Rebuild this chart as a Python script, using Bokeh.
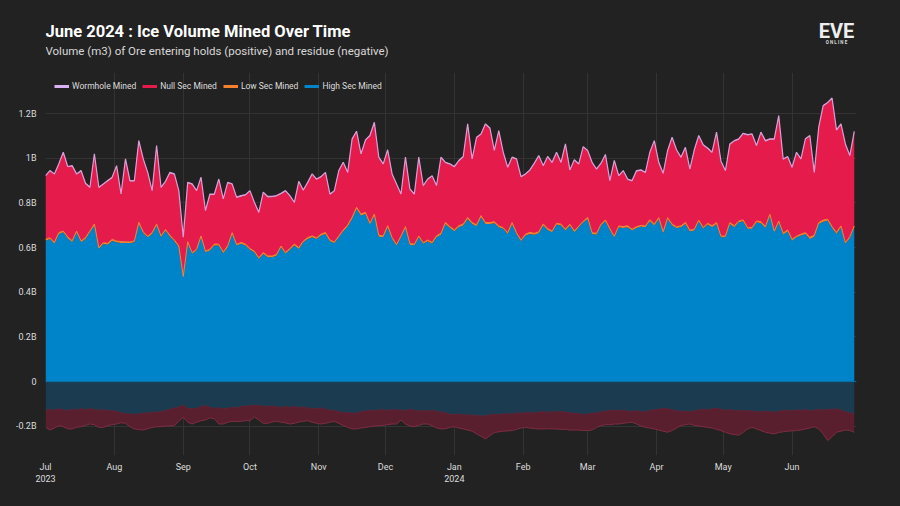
import numpy as np
import pandas as pd
from bokeh.plotting import figure
from bokeh.layouts import column
from bokeh.models import (ColumnDataSource, FixedTicker, Legend, LegendItem,
                          Range1d, Span)
from bokeh.core.properties import value
from bokeh.embed import file_html
from bokeh.resources import INLINE

# ---------------- data (billions of m3, one reading every 2 days) ----------------
start_date = "2023-07-01"
step = "2D"

high_sec_mined = [
    0.631, 0.639, 0.617, 0.661, 0.669, 0.642, 0.624, 0.669, 0.624, 0.639,
    0.669, 0.699, 0.594, 0.617, 0.613, 0.631, 0.624, 0.620, 0.620, 0.620,
    0.624, 0.706, 0.664, 0.646, 0.661, 0.699, 0.646, 0.676, 0.649, 0.628,
    0.602, 0.467, 0.620, 0.572, 0.587, 0.646, 0.579, 0.587, 0.609, 0.609,
    0.575, 0.602, 0.661, 0.609, 0.617, 0.609, 0.590,
    0.579, 0.549, 0.572, 0.557, 0.557, 0.564, 0.602, 0.572, 0.590, 0.609, 0.594, 0.624, 0.639,
    0.646, 0.639, 0.654, 0.661, 0.628, 0.620, 0.646, 0.673, 0.694, 0.728,
    0.773, 0.743, 0.751, 0.703, 0.743, 0.649, 0.646, 0.691, 0.639, 0.609,
    0.646, 0.688, 0.613, 0.609, 0.646, 0.617, 0.628, 0.617, 0.646, 0.658,
    0.706, 0.688, 0.673,
    0.691, 0.699, 0.728, 0.706, 0.696, 0.736, 0.706,
    0.706, 0.709, 0.691, 0.684, 0.661, 0.706, 0.661, 0.628, 0.654, 0.661,
    0.658, 0.664, 0.699, 0.679, 0.669, 0.703, 0.699, 0.676, 0.699, 0.669,
    0.691, 0.712, 0.728, 0.661, 0.658, 0.699, 0.718, 0.679, 0.646, 0.691,
    0.688, 0.691, 0.676, 0.688, 0.694, 0.691, 0.718, 0.699, 0.728,
    0.664,
    0.728, 0.699, 0.688, 0.691, 0.706, 0.672, 0.676, 0.718, 0.684, 0.703,
    0.691, 0.706, 0.646, 0.646, 0.706, 0.691, 0.713, 0.718, 0.684, 0.684,
    0.713, 0.709, 0.688, 0.743, 0.669, 0.713, 0.658, 0.673, 0.631, 0.646,
    0.654, 0.661, 0.639, 0.649, 0.706, 0.716, 0.721, 0.688, 0.661, 0.691,
    0.617, 0.643, 0.691,
]

# top of the positive stack (all mined)
total_mined = [
    0.922, 0.945, 0.930, 0.975, 1.027, 0.963, 0.967, 0.930, 0.945, 0.888,
    0.870, 1.020, 0.870, 0.885, 0.900, 0.915, 0.967, 0.840, 0.997, 0.900,
    0.900, 1.079, 0.997, 0.937, 0.855, 1.057, 0.870, 0.897, 0.937, 0.930,
    0.855, 0.646, 0.892, 0.885, 0.855, 0.915, 0.766, 0.840, 0.840, 0.907,
    0.818, 0.892, 0.885, 0.826, 0.833, 0.837, 0.855,
    0.803, 0.758, 0.848, 0.829, 0.829, 0.833, 0.843, 0.855, 0.833, 0.803, 0.897, 0.858, 0.892,
    0.930, 0.907, 0.918, 0.937, 0.840, 0.855, 0.945, 0.982, 0.937, 1.087,
    1.121, 1.020, 1.082, 1.102, 1.161, 1.005, 0.975, 1.038, 0.930, 0.885,
    0.840, 1.005, 0.863, 0.840, 1.005, 0.878, 0.907, 0.922, 0.878, 1.005,
    0.982, 0.975, 0.963,
    0.990, 1.008, 1.154, 0.997, 1.094, 1.109, 1.154,
    1.136, 1.035, 1.124, 1.027, 0.960, 1.005, 0.997, 0.918, 0.930, 0.948,
    0.978, 1.012, 0.967, 1.008, 0.982, 1.027, 0.982, 1.064, 0.948, 0.993,
    0.975, 1.052, 1.035, 0.982, 0.952, 0.978, 1.017, 0.900, 0.990, 0.922,
    0.945, 0.907, 0.900, 0.945, 0.948, 0.937, 1.027, 1.079, 0.982,
    0.933,
    1.035, 1.094, 1.038, 1.005, 1.049, 0.952, 1.038, 1.102, 1.060, 1.046,
    1.027, 1.117, 0.987, 0.945, 1.064, 1.079, 1.087, 1.112, 1.106, 1.109,
    1.057, 1.117, 1.079, 1.087, 1.087, 1.191, 0.997, 1.008, 0.960, 1.027,
    0.997, 1.087, 1.102, 0.937, 1.139, 1.236, 1.250, 1.270, 1.127, 1.154,
    1.064, 1.012, 1.120,
]

low_sec_mined = [
    0.006, 0.005, 0.007, 0.006, 0.005, 0.006, 0.007, 0.005, 0.006, 0.006,
    0.005, 0.007, 0.006, 0.005, 0.006, 0.006, 0.005, 0.007, 0.006, 0.005,
    0.006, 0.007, 0.006, 0.005, 0.006, 0.007, 0.006, 0.005, 0.006, 0.006,
    0.005, 0.004, 0.006, 0.005, 0.006, 0.006, 0.005, 0.006, 0.007, 0.006,
    0.005, 0.006, 0.006, 0.005, 0.006, 0.007, 0.006, 0.005, 0.005, 0.006,
    0.006, 0.005, 0.006, 0.005, 0.006, 0.006, 0.007, 0.006, 0.005, 0.006,
    0.006, 0.005, 0.006, 0.007, 0.006, 0.005, 0.006, 0.006, 0.007, 0.008,
    0.008, 0.007, 0.007, 0.006, 0.007, 0.006, 0.006, 0.007, 0.006, 0.005,
    0.006, 0.006, 0.005, 0.006, 0.006, 0.005, 0.006, 0.006, 0.007, 0.006,
    0.007, 0.006, 0.006, 0.007, 0.006, 0.007, 0.006, 0.006, 0.007, 0.006,
    0.006, 0.007, 0.006, 0.005, 0.006, 0.006, 0.005, 0.006, 0.006, 0.007,
    0.006, 0.006, 0.007, 0.006, 0.005, 0.006, 0.006, 0.007, 0.006, 0.006,
    0.005, 0.006, 0.007, 0.006, 0.006, 0.005, 0.006, 0.006, 0.005, 0.006,
    0.006, 0.007, 0.006, 0.006, 0.005, 0.006, 0.007, 0.006, 0.006, 0.007,
    0.006, 0.006, 0.005, 0.006, 0.007, 0.006, 0.006, 0.005, 0.006, 0.006,
    0.007, 0.006, 0.005, 0.006, 0.006, 0.007, 0.006, 0.006, 0.005, 0.006,
    0.006, 0.007, 0.006, 0.006, 0.005, 0.006, 0.007, 0.006, 0.006, 0.005,
    0.006, 0.006, 0.007, 0.006, 0.006, 0.007, 0.006, 0.006, 0.007, 0.006,
    0.005, 0.006, 0.006,
]

wormhole_mined = [
    0.004, 0.003, 0.004, 0.005, 0.004, 0.003, 0.004, 0.004, 0.005, 0.004,
    0.003, 0.004, 0.004, 0.003, 0.004, 0.005, 0.004, 0.003, 0.004, 0.004,
    0.004, 0.005, 0.004, 0.003, 0.004, 0.004, 0.003, 0.004, 0.005, 0.004,
    0.004, 0.003, 0.004, 0.004, 0.003, 0.004, 0.004, 0.005, 0.004, 0.003,
    0.004, 0.004, 0.003, 0.004, 0.005, 0.004, 0.004, 0.003, 0.004, 0.004,
    0.005, 0.004, 0.003, 0.004, 0.004, 0.004, 0.003, 0.004, 0.005, 0.004,
    0.004, 0.003, 0.004, 0.004, 0.005, 0.004, 0.004, 0.003, 0.004, 0.005,
    0.005, 0.004, 0.004, 0.005, 0.004, 0.004, 0.003, 0.004, 0.004, 0.003,
    0.004, 0.004, 0.003, 0.004, 0.004, 0.005, 0.004, 0.003, 0.004, 0.004,
    0.004, 0.003, 0.004, 0.004, 0.005, 0.004, 0.004, 0.003, 0.004, 0.004,
    0.005, 0.004, 0.004, 0.003, 0.004, 0.004, 0.003, 0.004, 0.004, 0.005,
    0.004, 0.004, 0.003, 0.004, 0.004, 0.005, 0.004, 0.003, 0.004, 0.004,
    0.004, 0.003, 0.004, 0.005, 0.004, 0.004, 0.003, 0.004, 0.004, 0.004,
    0.003, 0.004, 0.004, 0.005, 0.004, 0.004, 0.003, 0.004, 0.004, 0.005,
    0.004, 0.004, 0.003, 0.004, 0.004, 0.005, 0.004, 0.004, 0.003, 0.004,
    0.004, 0.005, 0.004, 0.003, 0.004, 0.004, 0.004, 0.005, 0.004, 0.003,
    0.004, 0.004, 0.005, 0.004, 0.004, 0.003, 0.004, 0.004, 0.005, 0.004,
    0.004, 0.003, 0.004, 0.004, 0.005, 0.004, 0.004, 0.005, 0.004, 0.004,
    0.003, 0.004, 0.004,
]

# residue (negative side), magnitudes in billions
high_sec_residue = [
    0.130, 0.125, 0.128, 0.122, 0.127, 0.130, 0.124, 0.128, 0.121, 0.126,
    0.122, 0.125, 0.128, 0.126, 0.130, 0.130, 0.134, 0.140, 0.143, 0.145,
    0.147, 0.145, 0.142, 0.140, 0.138, 0.137, 0.135, 0.130, 0.124, 0.118,
    0.115, 0.105, 0.120, 0.122, 0.120, 0.112, 0.108, 0.115, 0.120, 0.118,
    0.122, 0.120, 0.115, 0.118, 0.112, 0.110, 0.108, 0.106, 0.108, 0.110,
    0.112, 0.108, 0.114, 0.115, 0.112, 0.115, 0.112, 0.116, 0.114, 0.118,
    0.120, 0.122, 0.118, 0.124, 0.128, 0.130, 0.134, 0.140, 0.138, 0.142,
    0.140, 0.135, 0.132, 0.128, 0.130, 0.128, 0.126, 0.130, 0.125, 0.128,
    0.127, 0.130, 0.125, 0.128, 0.132, 0.130, 0.133, 0.128, 0.134, 0.136,
    0.140, 0.146, 0.148, 0.145, 0.150, 0.148, 0.152, 0.150, 0.155, 0.152,
    0.150, 0.146, 0.148, 0.144, 0.145, 0.145, 0.140, 0.143, 0.138, 0.140,
    0.140, 0.138, 0.134, 0.138, 0.135, 0.136, 0.133, 0.138, 0.140, 0.142,
    0.144, 0.147, 0.145, 0.142, 0.140, 0.136, 0.132, 0.130, 0.128, 0.130,
    0.128, 0.132, 0.135, 0.130, 0.136, 0.134, 0.130, 0.126, 0.124, 0.120,
    0.122, 0.126, 0.130, 0.134, 0.132, 0.136, 0.130, 0.128, 0.124, 0.127,
    0.122, 0.120, 0.125, 0.128, 0.126, 0.130, 0.128, 0.132, 0.130, 0.133,
    0.134, 0.136, 0.132, 0.135, 0.137, 0.133, 0.130, 0.128, 0.131, 0.127,
    0.129, 0.126, 0.130, 0.128, 0.125, 0.128, 0.124, 0.126, 0.122, 0.128,
    0.135, 0.140, 0.145,
]

null_sec_residue = [
    0.075, 0.092, 0.080, 0.075, 0.075, 0.082, 0.088, 0.077, 0.081, 0.070,
    0.068, 0.068, 0.077, 0.079, 0.067, 0.063, 0.056, 0.044, 0.044, 0.057,
    0.065, 0.070, 0.075, 0.071, 0.067, 0.065, 0.067, 0.069, 0.075, 0.079,
    0.063, 0.054, 0.062, 0.068, 0.062, 0.063, 0.064, 0.047, 0.047, 0.072,
    0.068, 0.062, 0.063, 0.061, 0.066, 0.065, 0.067, 0.053, 0.064, 0.077,
    0.075, 0.073, 0.064, 0.067, 0.073, 0.075, 0.075, 0.065, 0.064, 0.057,
    0.062, 0.065, 0.072, 0.063, 0.054, 0.048, 0.053, 0.056, 0.067, 0.070,
    0.072, 0.073, 0.073, 0.074, 0.069, 0.069, 0.070, 0.063, 0.065, 0.062,
    0.045, 0.060, 0.074, 0.074, 0.064, 0.060, 0.057, 0.069, 0.074, 0.076,
    0.071, 0.059, 0.054, 0.063, 0.062, 0.069, 0.070, 0.084, 0.090, 0.105,
    0.092, 0.082, 0.077, 0.078, 0.076, 0.074, 0.074, 0.065, 0.067, 0.068,
    0.071, 0.074, 0.078, 0.073, 0.077, 0.076, 0.081, 0.076, 0.077, 0.075,
    0.073, 0.072, 0.074, 0.075, 0.065, 0.061, 0.061, 0.063, 0.062, 0.060,
    0.059, 0.052, 0.047, 0.060, 0.063, 0.071, 0.078, 0.086, 0.093, 0.102,
    0.105, 0.093, 0.078, 0.063, 0.061, 0.054, 0.066, 0.071, 0.078, 0.078,
    0.086, 0.094, 0.094, 0.099, 0.108, 0.107, 0.112, 0.095, 0.082, 0.072,
    0.078, 0.083, 0.095, 0.096, 0.097, 0.095, 0.095, 0.094, 0.090, 0.092,
    0.088, 0.086, 0.078, 0.074, 0.087, 0.106, 0.140, 0.121, 0.105, 0.094,
    0.082, 0.079, 0.082,
]

y_ticks = [-0.2, 0, 0.2, 0.4, 0.6, 0.8, 1.0, 1.2]
y_tick_labels = ["-0.2B", "0", "0.2B", "0.4B", "0.6B", "0.8B", "1B", "1.2B"]
month_starts = ["2023-07-01", "2023-08-01", "2023-09-01", "2023-10-01", "2023-11-01",
                "2023-12-01", "2024-01-01", "2024-02-01", "2024-03-01", "2024-04-01",
                "2024-05-01", "2024-06-01"]
month_labels = ["Jul\n2023", "Aug", "Sep", "Oct", "Nov", "Dec", "Jan\n2024",
                "Feb", "Mar", "Apr", "May", "Jun"]
series_names = ["Wormhole Mined", "Null Sec Mined", "Low Sec Mined", "High Sec Mined"]
title_text = "June 2024 : Ice Volume Mined Over Time"
subtitle_text = "Volume (m3) of Ore entering holds (positive) and residue (negative)"

# ---------------- derived stacks ----------------
dates = pd.date_range(start_date, periods=len(high_sec_mined), freq=step)
h = np.array(high_sec_mined)
lo = np.array(low_sec_mined)
w = np.array(wormhole_mined)
tot = np.array(total_mined)
n = tot - h - lo - w
c1 = h
c2 = c1 + lo
c3 = c2 + n
c4 = c3 + w
nh = -np.array(high_sec_residue)
nn = nh - np.array(null_sec_residue)

src = ColumnDataSource(dict(x=dates, zero=np.zeros(len(h)), c1=c1, c2=c2, c3=c3, c4=c4,
                            nh=nh, nn=nn))

BG = "#222222"
BLUE = "#0084C9"
RED = "#E51B4B"
ORANGE = "#F4812B"
LILAC = "#D9B0F2"
FONT = "Roboto"
CSS_BG = {"background-color": BG}

def ms(d):
    return pd.Timestamp(d).value / 1e6

# ---------------- header (title, subtitle, logo) ----------------
hdr = figure(width=900, height=64, x_range=Range1d(45, 856), y_range=Range1d(64, 0),
             background_fill_color=None, border_fill_color=None, outline_line_color=None,
             min_border_left=45, min_border_right=44, min_border_top=0, min_border_bottom=0,
             output_backend="svg", toolbar_location=None, styles=CSS_BG)
hdr.axis.visible = False
hdr.grid.visible = False
hdr.text(x=[45], y=[31], text=[title_text], text_font=value(FONT), text_font_size="16.5px",
         text_font_style="bold", text_color="#FFFFFF", text_baseline="middle")
hdr.text(x=[45], y=[50], text=[subtitle_text], text_font=value(FONT), text_font_size="11.5px",
         text_color="#D8D8D8", text_baseline="middle")
hdr.text(x=[836], y=[30], text=["EVE"], text_font=value(FONT), text_font_size="20px",
         text_font_style="bold", text_color="#EEEEEE", text_align="center",
         text_baseline="middle")
hdr.text(x=[836], y=[42], text=["O N L I N E"], text_font=value(FONT), text_font_size="4.5px",
         text_font_style="bold", text_color="#DDDDDD", text_align="center",
         text_baseline="middle")

# ---------------- main chart ----------------
p = figure(width=900, height=442, x_axis_type="datetime",
           x_range=Range1d(ms("2023-07-01"), ms("2024-06-30")),
           y_range=Range1d(-0.331, 1.384),
           background_fill_color=BG, border_fill_color=None, outline_line_color=None,
           min_border_left=45, min_border_right=44, min_border_top=8, min_border_bottom=51,
           output_backend="svg", toolbar_location=None, styles=CSS_BG)

# negative side
p.varea(x="x", y1="zero", y2="nh", source=src, fill_color="#1B3B50")
p.varea(x="x", y1="nh", y2="nn", source=src, fill_color="#5A1F2E")
p.line(x="x", y="nh", source=src, line_color="#5E2638", line_width=1)
p.line(x="x", y="nn", source=src, line_color="#7E2D42", line_width=1)

# positive stack
p.varea(x="x", y1="zero", y2="c1", source=src, fill_color=BLUE)
p.varea(x="x", y1="c1", y2="c2", source=src, fill_color=ORANGE)
p.varea(x="x", y1="c2", y2="c3", source=src, fill_color=RED)
p.varea(x="x", y1="c3", y2="c4", source=src, fill_color=LILAC)
p.line(x="x", y="c2", source=src, line_color="#F08A3A", line_width=1)
p.line(x="x", y="c4", source=src, line_color="#DE9CD6", line_width=1.2)
p.add_layout(Span(location=0, dimension="width", line_color="#0A6FA6", line_width=1))

# legend (dummy line glyphs with no visible data)
leg_colors = [LILAC, RED, ORANGE, BLUE]
dummy = ColumnDataSource(dict(x=[dates[0], dates[1]], y=[np.nan, np.nan]))
items = []
for name, col in zip(series_names, leg_colors):
    r = p.line(x="x", y="y", source=dummy, line_color=col, line_width=3)
    items.append(LegendItem(label=name, renderers=[r]))
legend = Legend(items=items, location="top_left", orientation="horizontal",
                background_fill_alpha=0, border_line_alpha=0,
                label_text_font=FONT, label_text_font_size="8.5px", label_text_color="#DDDDDD",
                glyph_width=15, glyph_height=8, label_standoff=3, spacing=6,
                padding=2, margin=7, label_height=10)
p.add_layout(legend)

# axes and grid
p.xaxis.ticker = FixedTicker(ticks=[ms(d) for d in month_starts])
p.xaxis.major_label_overrides = {ms(d): lab for d, lab in zip(month_starts, month_labels)}
p.yaxis.ticker = FixedTicker(ticks=y_ticks)
p.yaxis.major_label_overrides = {t: lab for t, lab in zip(y_ticks, y_tick_labels)}
for ax in (p.xaxis, p.yaxis):
    ax.axis_line_color = None
    ax.major_tick_line_color = None
    ax.minor_tick_line_color = None
    ax.major_label_text_color = "#DDDDDD"
    ax.major_label_text_font = FONT
    ax.major_label_text_font_size = "9px"
p.xaxis.major_label_standoff = 0
p.yaxis.major_label_standoff = 3
p.xgrid.grid_line_color = "#333333"
p.ygrid.grid_line_color = "#333333"

page = column(hdr, p, spacing=0, styles=CSS_BG)
open("out.html", "w").write(file_html(page, INLINE))
